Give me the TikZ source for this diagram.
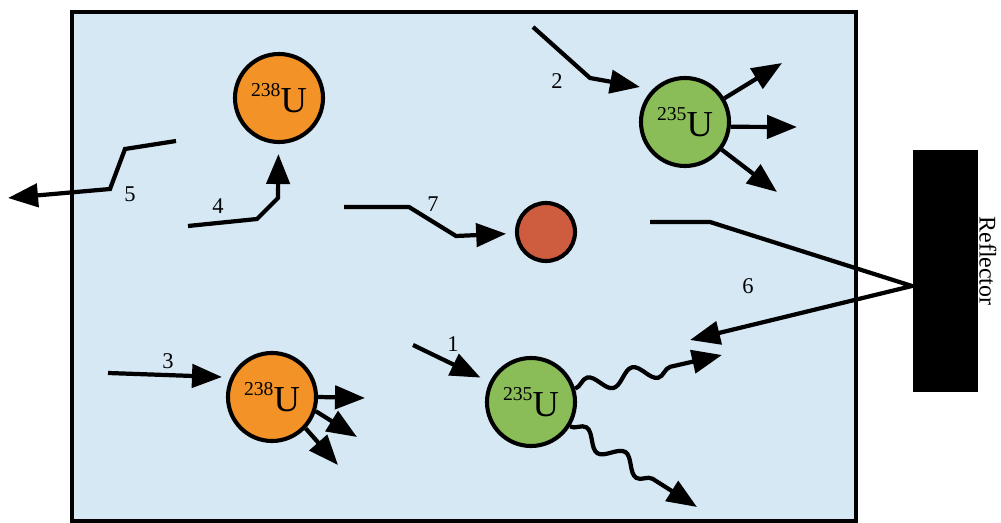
\documentclass[tikz,border=0pt]{standalone}
\usepackage{fontspec}
\setmainfont{Liberation Serif}
\usetikzlibrary{arrows.meta,decorations.pathmorphing}
\definecolor{tankblue}{RGB}{213,232,244}
\definecolor{uorange}{RGB}{243,146,38}
\definecolor{ugreen}{RGB}{138,189,88}
\definecolor{dotred}{RGB}{206,92,62}
\newcommand{\massnum}[1]{\raisebox{0.42em}{\fontsize{14}{14}\selectfont #1}}

\begin{document}
\begin{tikzpicture}[
    x=0.025cm, y=-0.025cm,
    nucleus/.style={circle, draw, line width=2.9pt, minimum size=2.2cm, inner sep=0pt, font=\fontsize{26}{26}\selectfont},
    neutron/.style={circle, draw, line width=2.9pt, minimum size=1.45cm, fill=dotred},
    arrow/.style={-{Triangle[length=0.75cm,width=0.58cm]}, line width=3pt},
    wave/.style={arrow, decorate, decoration={snake, segment length=1.15cm, amplitude=0.2cm, post length=0.75cm}},
    num/.style={font=\fontsize{16}{16}\selectfont}
]
\useasboundingbox (0,0) rectangle (1001,523);
\draw[fill=tankblue, line width=3pt] (72,12) rectangle (856,521);
\node[fill=black, minimum width=1.625cm, minimum height=6.05cm, inner sep=0pt] (reflector) at (945.5,271) {};
\node[rotate=-90, font=\fontsize{17}{17}\selectfont] (reflabel) at (988,261) {Reflector};

\node[nucleus, fill=uorange] (u238a) at (279,98) {\massnum{238}U};
\node[nucleus, fill=ugreen] (u235a) at (685,122) {\massnum{235}U};
\node[neutron] (dot) at (546,232) {};
\node[nucleus, fill=uorange] (u238b) at (272,397) {\massnum{238}U};
\node[nucleus, fill=ugreen] (u235b) at (531,402) {\massnum{235}U};

\node[num] (n1) at (453,344) {1};
\node[num] (n2) at (557,81) {2};
\node[num] (n3) at (168,361) {3};
\node[num] (n4) at (218,206) {4};
\node[num] (n5) at (130,194) {5};
\node[num] (n6) at (748,286) {6};
\node[num] (n7) at (433,204) {7};

% free ends of the neutron tracks
\coordinate (p1s) at (413,345);
\coordinate (p2s) at (533,27);
\coordinate (p2a) at (590,78);
\coordinate (p2e) at (640,87);
\coordinate (p3s) at (108,373);
\coordinate (p3e) at (222,377);
\coordinate (p4s) at (188,226);
\coordinate (p4a) at (257,219);
\coordinate (p4b) at (278,198);
\coordinate (p5s) at (176,141);
\coordinate (p5a) at (125,149);
\coordinate (p5b) at (110,189);
\coordinate (p5e) at (8,198);
\coordinate (p6s) at (650,222);
\coordinate (p6a) at (710,222);
\coordinate (bounce) at (912,286);
\coordinate (p6e) at (690,340);
\coordinate (p7s) at (344,207);
\coordinate (p7a) at (409,207);
\coordinate (p7b) at (456,236);
\coordinate (f2a) at (782,63);
\coordinate (f2b) at (797,127);
\coordinate (f2c) at (777,192);
\coordinate (s3a) at (365,398);
\coordinate (s3b) at (357,437);
\coordinate (s3c) at (338,465);
\coordinate (g1a) at (722,355);
\coordinate (g1b) at (697,507);

\draw[arrow, shorten >=0.25cm] (p1s) -- (u235b);
\draw[arrow] (p2s) -- (p2a) -- (p2e);
\draw[arrow] (p3s) -- (p3e);
\draw[arrow, shorten >=0.25cm] (p4s) -- (p4a) -- (p4b) -- (u238a);
\draw[arrow] (p5s) -- (p5a) -- (p5b) -- (p5e);
\draw[arrow] (p6s) -- (p6a) -- (bounce) -- (p6e);
\draw[arrow, shorten >=0.22cm] (p7s) -- (p7a) -- (p7b) -- (dot);

\draw[arrow] (u235a.31) -- (f2a);
\draw[arrow] (u235a.-6) -- (f2b);
\draw[arrow] (u235a.-37) -- (f2c);
\draw[arrow] (u238b.0) -- (s3a);
\draw[arrow] (u238b.-18) -- (s3b);
\draw[arrow] (u238b.-43) -- (s3c);
\draw[wave] (u235b.17) -- (g1a);
\draw[wave] (u235b.-32) -- (g1b);
\end{tikzpicture}
\end{document}
